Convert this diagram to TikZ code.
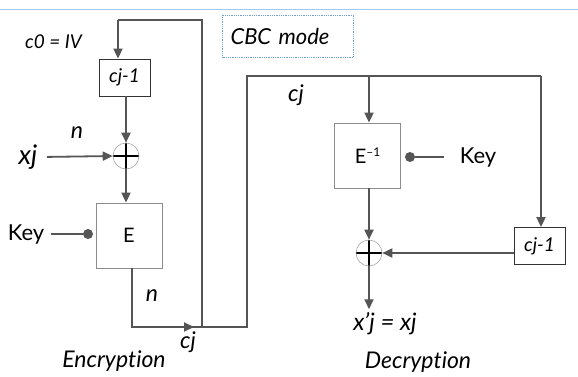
\documentclass[tikz,border=0pt]{standalone}
\usepackage{fontspec}
\setmainfont{Lato}[Ligatures=NoCommon]
\usetikzlibrary{arrows.meta}
\definecolor{wire}{RGB}{85,85,85}
\definecolor{topblue}{RGB}{160,200,240}
\definecolor{modeblue}{RGB}{110,160,220}
\begin{document}
\begin{tikzpicture}[
		x=1pt,y=-1pt,
		line/.style={draw=wire,line width=1.8pt},
		arr/.style={line,-{Triangle[length=10pt,width=9pt]}},
		blk/.style={draw=black!45,line width=0.8pt,minimum width=66pt,minimum height=65pt,inner sep=0pt,font=\fontsize{20}{22}\selectfont},
		reg/.style={draw=black!80,line width=0.8pt,minimum width=51pt,minimum height=37pt,inner sep=0pt,font=\itshape\fontsize{19}{21}\selectfont},
		xor/.style={circle,draw=black!35,line width=0.6pt,minimum size=26pt,inner sep=0pt,
			path picture={\draw[line width=2.6pt,black] (path picture bounding box.north) -- (path picture bounding box.south) (path picture bounding box.west) -- (path picture bounding box.east);}},
		dot/.style={circle,fill=wire,minimum size=10pt,inner sep=0pt},
		lbl/.style={font=\itshape\fontsize{23}{25}\selectfont},
		key/.style={font=\fontsize{22}{24}\selectfont},
	]
		\useasboundingbox (0,0) rectangle (578,376);
		\draw[topblue,line width=1pt] (0,9) -- (578,9);
		\node[draw=modeblue,densely dotted,line width=0.8pt,text width=115pt,align=left,inner sep=8pt,minimum height=42pt,font=\itshape\fontsize{22}{24}\selectfont] (mode) at (288,36) {CBC mode};
		
		% encryption
		\node[reg] (regE) at (124.5,77.5) {cj-1};
		\node[xor] (xorE) at (126,156) {};
		\node[blk] (encE) at (129,235.5) {E};
		\node[lbl,font=\itshape\fontsize{19}{21}\selectfont] (iv) at (53.5,42) {c0 = IV};
		\node[lbl,font=\itshape\fontsize{27}{29}\selectfont] (xin) at (28,157) {xj};
		\node[lbl] (nE) at (77,133) {n};
		\node[key] (keyE) at (26,234) {Key};
		\node[dot] (dotE) at (88,234) {};
		\node[lbl] (nC) at (152,296) {n};
		\node[lbl] (cjE) at (188,342) {cj};
		\node[lbl,font=\itshape\fontsize{23}{25}\selectfont] (encL) at (114,361) {Encryption};
		
		\coordinate (fbTop) at (202,20);
		\coordinate (fbBot) at (202,327);
		\coordinate (cIn) at (118,20);
		\coordinate (cOut) at (132,327);
		\coordinate (cTip) at (194,327);
		\coordinate (bus) at (247,327);
		\coordinate (busTop) at (247,76);
		\coordinate (busEnd) at (541,76);
		
		\draw[arr] (cIn) -- (cIn |- regE.north);
		\draw[line] (cIn) -- (fbTop) -- (fbBot);
		\draw[arr] (regE.south -| xorE) -- (xorE.north);
		\draw[arr,shorten <=6pt] (xin.east) -- (xorE.west);
		\draw[arr] (xorE.south) -- (xorE.south |- encE.north);
		\draw[line,shorten <=3pt] (keyE.east) -- (dotE);
		\draw[line] (encE.south -| cOut) -- (cOut) -- (cTip);
		\draw[arr] (cOut) -- (cTip);
		\draw[line] (cTip) -- (bus) -- (busTop) -- (busEnd);
		
		% decryption
		\node[blk] (decE) at (367.5,155.5) {E\raisebox{0.75ex}{\fontsize{12}{13}\selectfont --1}};
		\node[xor] (xorD) at (369,253) {};
		\node[reg] (regD) at (539.5,246) {cj-1};
		\node[dot] (dotD) at (410,157) {};
		\node[key] (keyD) at (478,157) {Key};
		\node[lbl] (cjD) at (296,95) {cj};
		\node[lbl,font=\itshape\fontsize{24}{26}\selectfont] (xout) at (385,324) {x'j = xj};
		\node[lbl,font=\itshape\fontsize{23}{25}\selectfont] (decL) at (418,362) {Decryption};
		
		\draw[arr] (xorD |- busTop) -- (decE.north -| xorD);
		\draw[arr] (busEnd) -- (regD.north -| busEnd);
		\draw[line,shorten >=12pt] (dotD) -- (keyD.west);
		\draw[arr] (decE.south -| xorD) -- (xorD.north);
		\draw[arr] (regD.west |- xorD) -- (xorD.east);
		\draw[arr] (xorD.south) -- (xorD |- xout.north);
\end{tikzpicture}
\end{document}
